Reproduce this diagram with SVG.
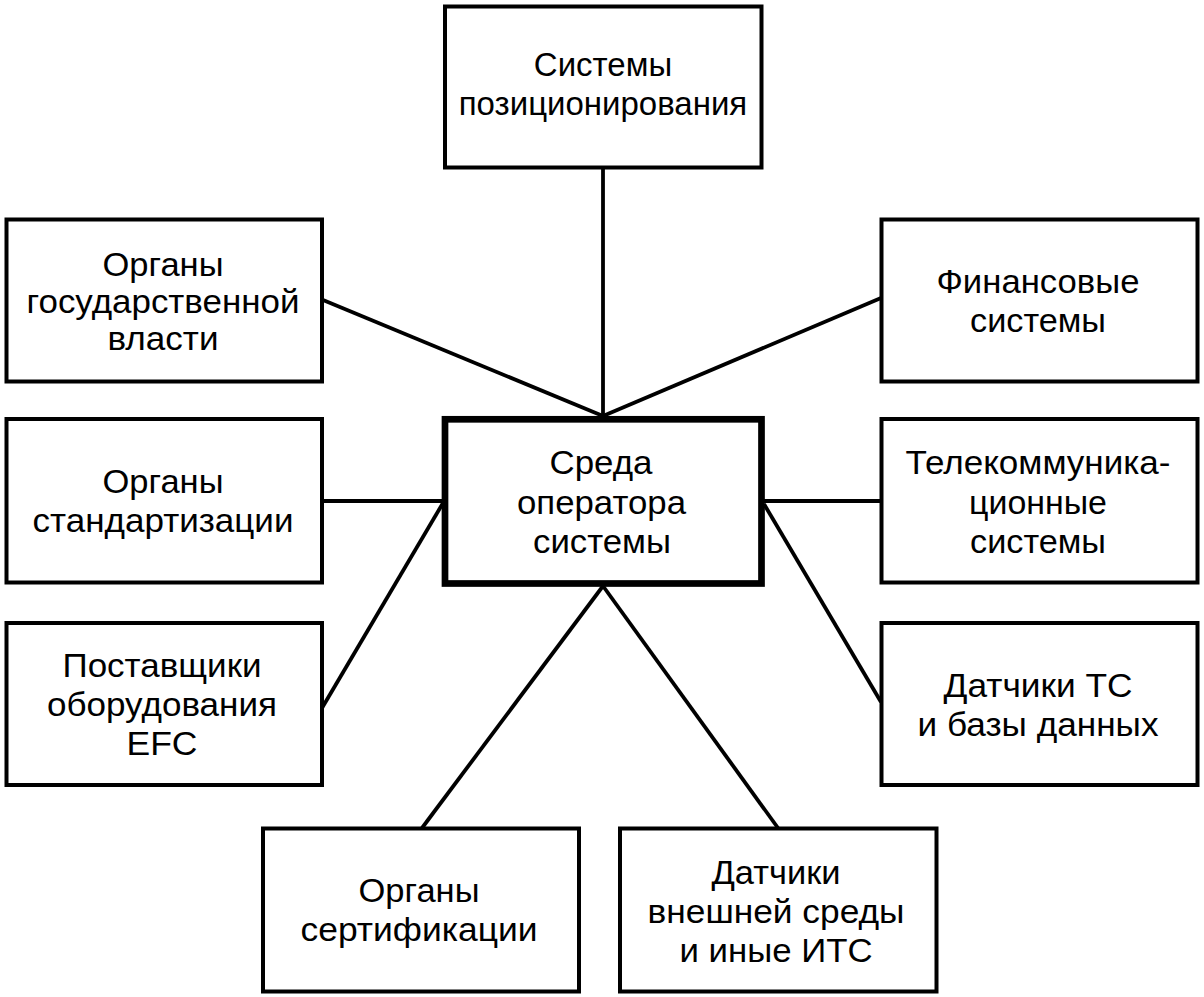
<svg xmlns="http://www.w3.org/2000/svg" width="1204" height="997" viewBox="0 0 1204 997">
<style>
  .box { fill: #ffffff; stroke: #000000; stroke-width: 4; }
  .main { fill: #ffffff; stroke: #000000; stroke-width: 6.7; }
  .conn line { stroke: #000000; stroke-width: 3.8; stroke-linecap: butt; }
  text { font-family: "Liberation Sans", Arial, sans-serif; font-size: 33px; fill: #000000; text-anchor: middle; }
</style>
<rect x="0" y="0" width="1204" height="997" fill="#ffffff"/>
<g id="connectors" class="conn">
  <line x1="603" y1="168" x2="603" y2="416"/>
  <line x1="323" y1="300" x2="603" y2="416"/>
  <line x1="881" y1="298" x2="603" y2="416"/>
  <line x1="322" y1="501" x2="443" y2="501"/>
  <line x1="763" y1="501" x2="881" y2="501"/>
  <line x1="322" y1="708" x2="443" y2="503"/>
  <line x1="881" y1="702" x2="764" y2="504"/>
  <line x1="603" y1="586" x2="422" y2="828"/>
  <line x1="603" y1="586" x2="778" y2="828"/>
</g>
<g id="node-positioning">
  <rect class="box" x="445" y="6.5" width="316.5" height="161"/>
  <text x="603" y="76">Системы</text>
  <text x="603" y="115">позиционирования</text>
</g>
<g id="node-government">
  <rect class="box" x="6.5" y="219.5" width="315.5" height="162"/>
  <text x="163" y="276" textLength="121" lengthAdjust="spacingAndGlyphs">Органы</text>
  <text x="163" y="313" textLength="273" lengthAdjust="spacingAndGlyphs">государственной</text>
  <text x="163" y="350" textLength="111" lengthAdjust="spacingAndGlyphs">власти</text>
</g>
<g id="node-finance">
  <rect class="box" x="881.5" y="219.5" width="316" height="162"/>
  <text x="1038" y="293" textLength="203" lengthAdjust="spacingAndGlyphs">Финансовые</text>
  <text x="1038" y="332" textLength="136" lengthAdjust="spacingAndGlyphs">системы</text>
</g>
<g id="node-standards">
  <rect class="box" x="6.5" y="419" width="315.5" height="163.5"/>
  <text x="163" y="493" textLength="121" lengthAdjust="spacingAndGlyphs">Органы</text>
  <text x="163" y="532" textLength="261" lengthAdjust="spacingAndGlyphs">стандартизации</text>
</g>
<g id="node-operator">
  <rect class="main" x="445" y="419.3" width="316.5" height="164.2"/>
  <text x="601" y="474" textLength="103" lengthAdjust="spacingAndGlyphs">Среда</text>
  <text x="601.5" y="513.5" textLength="169" lengthAdjust="spacingAndGlyphs">оператора</text>
  <text x="602" y="553" textLength="138" lengthAdjust="spacingAndGlyphs">системы</text>
</g>
<g id="node-telecom">
  <rect class="box" x="881.5" y="419" width="316" height="163.5"/>
  <text x="1038" y="474" textLength="265" lengthAdjust="spacingAndGlyphs">Телекоммуника-</text>
  <text x="1038" y="513.5" textLength="138" lengthAdjust="spacingAndGlyphs">ционные</text>
  <text x="1038" y="553" textLength="136" lengthAdjust="spacingAndGlyphs">системы</text>
</g>
<g id="node-suppliers">
  <rect class="box" x="6.5" y="623" width="315.5" height="162"/>
  <text x="162" y="677" textLength="199" lengthAdjust="spacingAndGlyphs">Поставщики</text>
  <text x="162" y="716" textLength="230" lengthAdjust="spacingAndGlyphs">оборудования</text>
  <text x="162" y="755" textLength="71" lengthAdjust="spacingAndGlyphs">EFC</text>
</g>
<g id="node-vehicle-sensors">
  <rect class="box" x="881.5" y="623" width="316" height="162"/>
  <text x="1038" y="697" textLength="189" lengthAdjust="spacingAndGlyphs">Датчики ТС</text>
  <text x="1038" y="736" textLength="241" lengthAdjust="spacingAndGlyphs">и базы данных</text>
</g>
<g id="node-certification">
  <rect class="box" x="263" y="828.5" width="316" height="163"/>
  <text x="419" y="902" textLength="121" lengthAdjust="spacingAndGlyphs">Органы</text>
  <text x="419" y="941" textLength="237" lengthAdjust="spacingAndGlyphs">сертификации</text>
</g>
<g id="node-env-sensors">
  <rect class="box" x="620" y="828.5" width="316.5" height="163"/>
  <text x="776" y="884" textLength="129" lengthAdjust="spacingAndGlyphs">Датчики</text>
  <text x="776" y="923" textLength="257" lengthAdjust="spacingAndGlyphs">внешней среды</text>
  <text x="776" y="962" textLength="193" lengthAdjust="spacingAndGlyphs">и иные ИТС</text>
</g>
</svg>
